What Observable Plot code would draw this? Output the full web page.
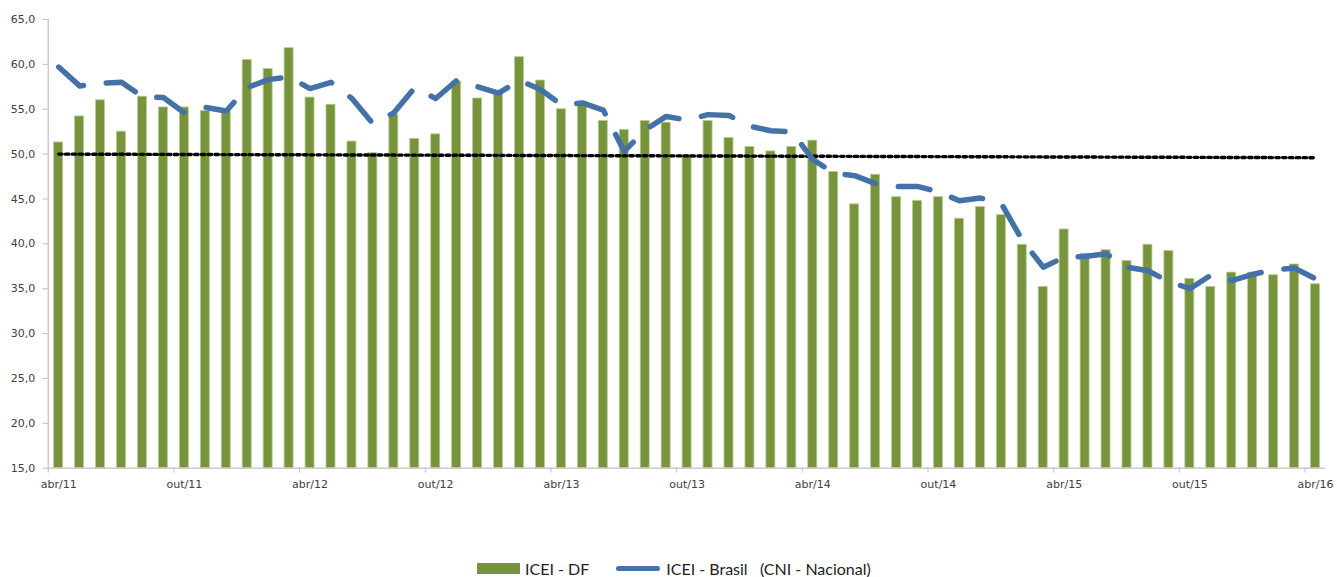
<!DOCTYPE html>
<html>
<head>
<meta charset="utf-8">
<script src="https://cdn.jsdelivr.net/npm/d3@7"></script>
<script src="https://cdn.jsdelivr.net/npm/@observablehq/plot@0.6"></script>
<style>
  html, body { margin: 0; padding: 0; background: #fff; }
  #wrap { position: relative; width: 1337px; height: 577px; }
  .legend { position: absolute; left: 477px; top: 558px; height: 20px; display: flex; align-items: center;
            font-family: "Lato", "Open Sans", sans-serif; font-size: 16px; color: #222; white-space: pre; }
  .sw-bar { display: inline-block; width: 43px; height: 11px; background: #77933C; margin-right: 5px; }
  .sw-line { display: inline-block; width: 44px; height: 5px; background: #4472A8; border-radius: 3px; margin-left: 27px; margin-right: 6px; }
</style>
</head>
<body>
<div id="wrap">
  <div id="chart"></div>
  <div class="legend"><span class="sw-bar"></span><span>ICEI - DF</span><span class="sw-line"></span><span>ICEI - Brasil   (CNI - Nacional)</span></div>
</div>
<script>
const months = [
  "abr/11","mai/11","jun/11","jul/11","ago/11","set/11","out/11","nov/11","dez/11",
  "jan/12","fev/12","mar/12","abr/12","mai/12","jun/12","jul/12","ago/12","set/12","out/12","nov/12","dez/12",
  "jan/13","fev/13","mar/13","abr/13","mai/13","jun/13","jul/13","ago/13","set/13","out/13","nov/13","dez/13",
  "jan/14","fev/14","mar/14","abr/14","mai/14","jun/14","jul/14","ago/14","set/14","out/14","nov/14","dez/14",
  "jan/15","fev/15","mar/15","abr/15","mai/15","jun/15","jul/15","ago/15","set/15","out/15","nov/15","dez/15",
  "jan/16","fev/16","mar/16","abr/16"
];

const iceiDF = [
  51.3, 54.2, 56.0, 52.5, 56.4, 55.2, 55.2, 54.8, 55.0,
  60.5, 59.5, 61.8, 56.3, 55.5, 51.4, 50.1, 54.4, 51.7, 52.2, 58.1, 56.2,
  56.7, 60.8, 58.2, 55.0, 55.8, 53.7, 52.7, 53.7, 53.5, 49.9, 53.7, 51.8,
  50.8, 50.3, 50.8, 51.5, 48.0, 44.4, 47.7, 45.2, 44.8, 45.2, 42.8, 44.1,
  43.2, 39.9, 35.2, 41.6, 38.9, 39.3, 38.1, 39.9, 39.2, 36.1, 35.2, 36.8,
  36.8, 36.5, 37.7, 35.5
];

const iceiBrasil = [
  59.7, 57.6, 57.9, 58.0, 56.4, 56.3, 54.6, 55.2, 54.8,
  57.4, 58.3, 58.6, 57.3, 58.0, 56.2, 53.4, 54.6, 57.4, 56.2, 58.2, 57.5,
  56.8, 58.2, 57.2, 55.5, 55.7, 54.9, 50.3, 52.7, 54.2, 53.8, 54.4, 54.3,
  53.1, 52.6, 52.5, 49.4, 47.9, 47.6, 46.7, 46.4, 46.4, 45.8, 44.8, 45.1,
  44.5, 40.4, 37.4, 38.5, 38.6, 38.9, 37.4, 37.0, 35.8, 35.0, 36.5, 35.9,
  36.6, 37.1, 37.3, 36.1
];

const refMonths = ["abr/11", "abr/16"];
const refValues = [50.0, 49.6];

const xTicks = ["abr/11","out/11","abr/12","out/12","abr/13","out/13","abr/14","out/14","abr/15","out/15","abr/16"];
const yTicks = [15, 20, 25, 30, 35, 40, 45, 50, 55, 60, 65];

const rows = months.map((m, i) => ({month: m, df: iceiDF[i], br: iceiBrasil[i]}));
const refRows = refMonths.map((m, i) => ({month: m, v: refValues[i]}));

const W = 1337, ML = 47.7, MR = 11.5;
const step = (W - ML - MR) / months.length;
const yMin = yTicks[0], yMax = yTicks[yTicks.length - 1];

const chart = Plot.plot({
  width: W,
  height: 500,
  marginLeft: ML,
  marginRight: MR,
  marginTop: 19,
  marginBottom: 32.3,
  style: {fontFamily: "DejaVu Sans, sans-serif", fontSize: "11px", background: "white", color: "#404040"},
  x: {type: "band", domain: months, paddingInner: 0.57, paddingOuter: 0.285, label: null},
  y: {domain: [yMin, yMax], label: null},
  marks: [
    Plot.barY(rows, {x: "month", y1: yMin, y2: "df", fill: "#77933C", stroke: "#b9cd94", strokeWidth: 0.8}),
    Plot.lineY(refRows, {x: "month", y: "v", stroke: "#000", strokeWidth: 3.4, strokeDasharray: "3.4,3.4"}),
    Plot.lineY(rows, {x: "month", y: "br", stroke: "#4472A8", strokeWidth: 5.5, strokeDasharray: "32,23",
      strokeLinecap: "round", strokeLinejoin: "round"}),
    Plot.ruleY([yMin], {stroke: "#bfbfbf", strokeWidth: 1.2}),
    Plot.ruleX([months[0]], {y1: yMin, y2: yMax, dx: -step / 2, stroke: "#bfbfbf", strokeWidth: 1.2}),
    Plot.axisY({ticks: yTicks, tickFormat: d => d.toFixed(1).replace(".", ","), tickSize: 5, tickPadding: 8,
      stroke: "#bfbfbf", fill: "#404040", label: null}),
    Plot.axisX({ticks: xTicks, tickSize: 0, tickPadding: 12, fill: "#404040", label: null}),
    Plot.axisX({ticks: xTicks, tickSize: 5, text: null, dx: -step / 2, stroke: "#bfbfbf", label: null})
  ]
});
document.getElementById("chart").appendChild(chart);
</script>
</body>
</html>
